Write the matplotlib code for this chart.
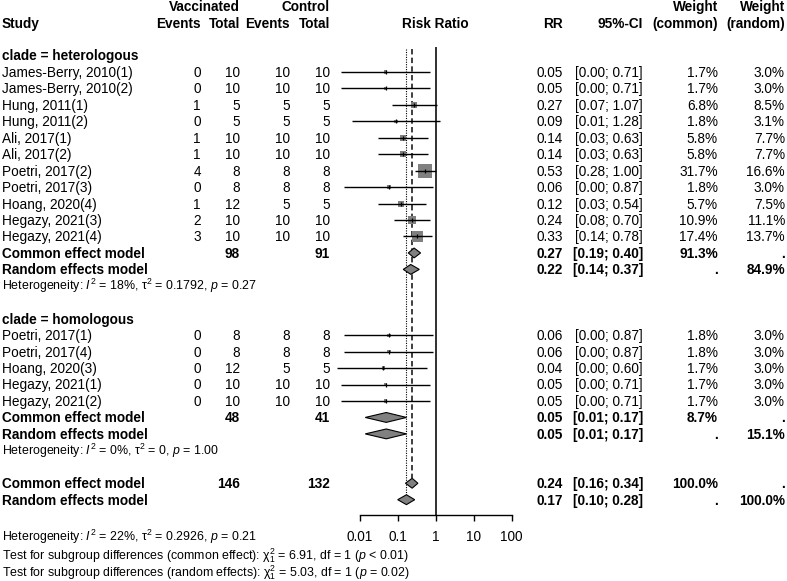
import matplotlib.pyplot as plt
import matplotlib.transforms as mtransforms
from matplotlib.patches import Polygon
from matplotlib.ticker import NullLocator

plt.rcParams["font.family"] = ["Liberation Sans", "DejaVu Sans"]
plt.rcParams["mathtext.fontset"] = "custom"
plt.rcParams["mathtext.rm"] = "Liberation Sans"
plt.rcParams["mathtext.it"] = "Liberation Sans:italic"
plt.rcParams["mathtext.bf"] = "Liberation Sans:bold"

# ---- data: clade = heterologous
het_study = ["James-Berry, 2010(1)", "James-Berry, 2010(2)", "Hung, 2011(1)", "Hung, 2011(2)",
             "Ali, 2017(1)", "Ali, 2017(2)", "Poetri, 2017(2)", "Poetri, 2017(3)",
             "Hoang, 2020(4)", "Hegazy, 2021(3)", "Hegazy, 2021(4)"]
het_ev_vac = [0, 0, 1, 0, 1, 1, 4, 0, 1, 2, 3]
het_n_vac = [10, 10, 5, 5, 10, 10, 8, 8, 12, 10, 10]
het_ev_ctl = [10, 10, 5, 5, 10, 10, 8, 8, 5, 10, 10]
het_n_ctl = [10, 10, 5, 5, 10, 10, 8, 8, 5, 10, 10]
het_rr = [0.048, 0.048, 0.27, 0.091, 0.14, 0.14, 0.53, 0.059, 0.12, 0.24, 0.33]
het_lo = [0.0032, 0.0032, 0.07, 0.0063, 0.03, 0.03, 0.28, 0.0039, 0.03, 0.08, 0.14]
het_hi = [0.71, 0.71, 1.07, 1.28, 0.63, 0.63, 1.00, 0.87, 0.54, 0.70, 0.78]
het_w_common = [1.7, 1.7, 6.8, 1.8, 5.8, 5.8, 31.7, 1.8, 5.7, 10.9, 17.4]
het_w_random = [3.0, 3.0, 8.5, 3.1, 7.7, 7.7, 16.6, 3.0, 7.5, 11.1, 13.7]

# ---- data: clade = homologous
hom_study = ["Poetri, 2017(1)", "Poetri, 2017(4)", "Hoang, 2020(3)", "Hegazy, 2021(1)", "Hegazy, 2021(2)"]
hom_ev_vac = [0, 0, 0, 0, 0]
hom_n_vac = [8, 8, 12, 10, 10]
hom_ev_ctl = [8, 8, 5, 10, 10]
hom_n_ctl = [8, 8, 5, 10, 10]
hom_rr = [0.059, 0.059, 0.042, 0.048, 0.048]
hom_lo = [0.0039, 0.0039, 0.0026, 0.0032, 0.0032]
hom_hi = [0.87, 0.87, 0.60, 0.71, 0.71]
hom_w_common = [1.8, 1.8, 1.7, 1.7, 1.7]
hom_w_random = [3.0, 3.0, 3.0, 3.0, 3.0]

# ---- pooled estimates: (rr, lo, hi, weight common, weight random)
het_common = (0.27, 0.19, 0.40, "91.3%", ".")
het_random = (0.22, 0.14, 0.37, ".", "84.9%")
hom_common = (0.05, 0.014, 0.17, "8.7%", ".")
hom_random = (0.05, 0.014, 0.17, ".", "15.1%")
all_common = (0.24, 0.16, 0.34, "100.0%", ".")
all_random = (0.17, 0.10, 0.28, ".", "100.0%")
het_totals = (98, 91)
hom_totals = (48, 41)
all_totals = (146, 132)

het_text = r"Heterogeneity: $\mathit{I}^2$ = 18%, $\mathrm{\tau}^2$ = 0.1792, $\mathit{p}$ = 0.27"
hom_text = r"Heterogeneity: $\mathit{I}^2$ = 0%, $\mathrm{\tau}^2$ = 0, $\mathit{p}$ = 1.00"
all_text = r"Heterogeneity: $\mathit{I}^2$ = 22%, $\mathrm{\tau}^2$ = 0.2926, $\mathit{p}$ = 0.21"
test_common = r"Test for subgroup differences (common effect): $\mathrm{\chi}^2_1$ = 6.91, df = 1 ($\mathit{p}$ < 0.01)"
test_random = r"Test for subgroup differences (random effects): $\mathrm{\chi}^2_1$ = 5.03, df = 1 ($\mathit{p}$ = 0.02)"

ticks = [0.01, 0.1, 1, 10, 100]
tick_labels = ["0.01", "0.1", "1", "10", "100"]

# ---- layout (pixels)
W, H = 787, 581
X_ONE, DEC = 435.7, 38.0
ROW0, ROWH = 72.0, 16.45
FS = 9.8
FS_SMALL = 8.9
BASE = 0.3  # baseline offset (rows) so that digits are centred on the row
GREY = "#808080"
C_STUDY, C_EV1, C_N1, C_EV2, C_N2 = 2, 201, 240, 290, 330
C_RR, C_CI, C_WC, C_WR = 563, 643, 718, 785

fig = plt.figure(figsize=(W / 100, H / 100), dpi=100)
ax = fig.add_axes([0, 0, 1, 1])
ax.patch.set_alpha(0)
ax.set_xscale("log")
ax.set_xlim(10 ** (-X_ONE / DEC), 10 ** ((W - X_ONE) / DEC))
ax.set_ylim((H - ROW0) / ROWH, -ROW0 / ROWH)
tr = mtransforms.blended_transform_factory(fig.transFigure, ax.transData)


def put(px, r, s, ha="right", bold=False, size=FS):
    ax.text(px / W, r + BASE * size / FS, s, transform=tr, ha=ha, va="baseline",
            fontsize=size, fontweight="bold" if bold else "normal")


def fmt_ci(lo, hi):
    return f"[{lo:.2f}; {hi:.2f}]"


def diamond(r, est, lo, hi):
    ax.add_patch(Polygon([(lo, r), (est, r - 0.3), (hi, r), (est, r + 0.3)],
                         closed=True, facecolor=GREY, edgecolor="black", lw=0.8, zorder=4))


def pooled_row(r, label, vals, totals=None):
    est, lo, hi, wc, wr = vals
    put(C_STUDY, r, label, ha="left", bold=True)
    if totals is not None:
        put(C_N1, r, str(totals[0]), bold=True)
        put(C_N2, r, str(totals[1]), bold=True)
    put(C_RR, r, f"{est:.2f}", bold=True)
    put(C_CI, r, fmt_ci(lo, hi), bold=True)
    put(C_WC, r, wc, bold=True)
    put(C_WR, r, wr, bold=True)
    diamond(r, est, lo, hi)


def study_rows(r0, names, ev1, n1, ev2, n2, rr, lo, hi, wc, wr):
    for i, name in enumerate(names):
        r = r0 + i
        put(C_STUDY, r, name, ha="left")
        put(C_EV1, r, str(ev1[i]))
        put(C_N1, r, str(n1[i]))
        put(C_EV2, r, str(ev2[i]))
        put(C_N2, r, str(n2[i]))
        put(C_RR, r, f"{rr[i]:.2f}")
        put(C_CI, r, fmt_ci(lo[i], hi[i]))
        put(C_WC, r, f"{wc[i]:.1f}%")
        put(C_WR, r, f"{wr[i]:.1f}%")
        ax.plot([lo[i], hi[i]], [r, r], color="black", lw=1.0, zorder=3, solid_capstyle="butt")
    rows = [r0 + i for i in range(len(names))]
    ax.scatter(rr, rows, marker="s", s=[w * 3.2 for w in wc], color=GREY, lw=0, zorder=2)
    ax.scatter(rr, rows, marker="|", s=12, color="black", lw=0.9, zorder=3)


# header
put(C_N1, -4, "Vaccinated", bold=True)
put(C_N2, -4, "Control", bold=True)
put(C_WC, -4, "Weight", bold=True)
put(C_WR, -4, "Weight", bold=True)
put(C_STUDY, -3, "Study", ha="left", bold=True)
put(C_EV1, -3, "Events", bold=True)
put(C_N1, -3, "Total", bold=True)
put(C_EV2, -3, "Events", bold=True)
put(C_N2, -3, "Total", bold=True)
put(X_ONE, -3, "Risk Ratio", ha="center", bold=True)
put(C_RR, -3, "RR", bold=True)
put(C_CI, -3, "95%-CI", bold=True)
put(C_WC, -3, "(common)", bold=True)
put(C_WR, -3, "(random)", bold=True)

# heterologous subgroup
put(C_STUDY, -1, "clade = heterologous", ha="left", bold=True)
study_rows(0, het_study, het_ev_vac, het_n_vac, het_ev_ctl, het_n_ctl,
           het_rr, het_lo, het_hi, het_w_common, het_w_random)
pooled_row(11, "Common effect model", het_common, het_totals)
pooled_row(12, "Random effects model", het_random)
put(C_STUDY, 13, het_text, ha="left", size=FS_SMALL)

# homologous subgroup
put(C_STUDY, 15, "clade = homologous", ha="left", bold=True)
study_rows(16, hom_study, hom_ev_vac, hom_n_vac, hom_ev_ctl, hom_n_ctl,
           hom_rr, hom_lo, hom_hi, hom_w_common, hom_w_random)
pooled_row(21, "Common effect model", hom_common, hom_totals)
pooled_row(22, "Random effects model", hom_random)
put(C_STUDY, 23, hom_text, ha="left", size=FS_SMALL)

# overall
pooled_row(25, "Common effect model", all_common, all_totals)
pooled_row(26, "Random effects model", all_random)
put(C_STUDY, 28.25, all_text, ha="left", size=FS_SMALL)
put(C_STUDY, 29.35, test_common, ha="left", size=FS_SMALL)
put(C_STUDY, 30.4, test_random, ha="left", size=FS_SMALL)

# reference lines
axis_row = 26.9
ax.plot([1, 1], [-1.45, axis_row], color="#303030", lw=1.4, zorder=1)
ax.plot([all_common[0]] * 2, [-1.4, 25 - 0.3], color="#303030", lw=1.3,
        dashes=(3, 1.8), zorder=1)
ax.plot([all_random[0]] * 2, [-1.4, 26 - 0.3], color="black", lw=0.8,
        dashes=(1, 1.2), zorder=1)

# x axis
for side in ["top", "right", "left"]:
    ax.spines[side].set_visible(False)
ax.spines["bottom"].set_position(("data", axis_row))
ax.spines["bottom"].set_bounds(ticks[0], ticks[-1])
ax.spines["bottom"].set_linewidth(1.0)
ax.set_xticks(ticks)
ax.set_xticklabels(tick_labels)
ax.xaxis.set_minor_locator(NullLocator())
ax.tick_params(axis="x", direction="out", length=4.5, width=1.0, pad=7, labelsize=FS)
ax.yaxis.set_visible(False)

fig.savefig("out.png", dpi=100)
